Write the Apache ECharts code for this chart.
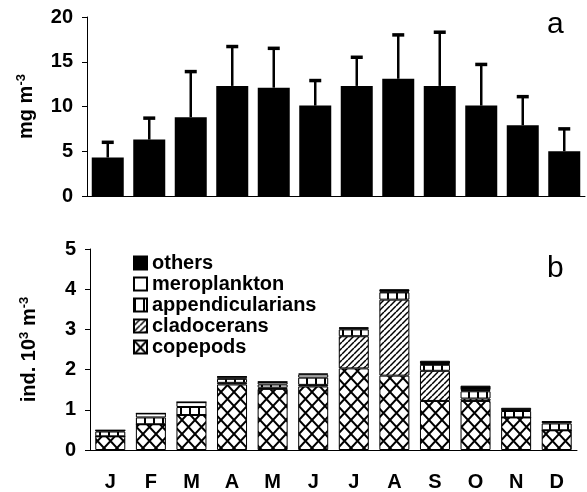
<!DOCTYPE html>
<html>
<head>
<meta charset="utf-8">
<script src="https://cdn.jsdelivr.net/npm/echarts@6/dist/echarts.min.js"></script>
<style>
  html, body { margin: 0; padding: 0; background: #fff; }
  #chart { width: 587px; height: 492px; }
</style>
</head>
<body>
<div id="chart"></div>
<script>
var months = ['J', 'F', 'M', 'A', 'M', 'J', 'J', 'A', 'S', 'O', 'N', 'D'];

// panel a: biomass (mg m-3) with SD
var biomass = [4.3, 6.3, 8.8, 12.3, 12.1, 10.1, 12.3, 13.1, 12.3, 10.1, 7.9, 5.0];
var biomassSd = [1.7, 2.4, 5.1, 4.4, 4.4, 2.8, 3.2, 4.9, 6.0, 4.6, 3.2, 2.5];

// panel b: abundance (ind. 10^3 m-3)
var copepods = [0.34, 0.64, 0.87, 1.63, 1.52, 1.58, 2.03, 1.85, 1.22, 1.22, 0.81, 0.49];
var cladocerans = [0, 0, 0, 0.04, 0.03, 0.04, 0.80, 1.89, 0.75, 0.06, 0, 0];
var appendicularians = [0.12, 0.17, 0.2, 0.1, 0.08, 0.18, 0.17, 0.18, 0.15, 0.18, 0.16, 0.17];
var meroplankton = [0.03, 0.1, 0.12, 0.05, 0.06, 0.08, 0.03, 0.02, 0.02, 0.03, 0.02, 0.04];
var others = [0, 0, 0, 0.01, 0.01, 0.02, 0.02, 0.06, 0.08, 0.11, 0.06, 0.01];

var font = "'Liberation Sans', Arial, sans-serif";

function pattern(w, h, draw) {
  var c = document.createElement('canvas');
  c.width = w; c.height = h;
  var ctx = c.getContext('2d');
  ctx.fillStyle = '#fff';
  ctx.fillRect(0, 0, w, h);
  ctx.strokeStyle = '#000';
  ctx.fillStyle = '#000';
  draw(ctx, w, h);
  return { image: c, repeat: 'repeat' };
}

var crossPat = pattern(13, 14, function(ctx, w, h) {
  ctx.lineWidth = 2;
  [-w, 0, w].forEach(function(dx) {
    ctx.beginPath();
    ctx.moveTo(dx, 0); ctx.lineTo(dx + w, h);
    ctx.moveTo(dx + w, 0); ctx.lineTo(dx, h);
    ctx.stroke();
  });
});
var diagPat = pattern(6, 6, function(ctx, w, h) {
  ctx.lineWidth = 1.5;
  [-w, 0, w].forEach(function(dx) {
    ctx.beginPath();
    ctx.moveTo(dx, h); ctx.lineTo(dx + w, 0);
    ctx.stroke();
  });
});
var vertPat = pattern(9, 2, function(ctx, w, h) {
  ctx.fillRect(0, 0, 2, h);
});

var axisLine = { lineStyle: { color: '#000', width: 1 } };
var tickLabel = { color: '#000', fontSize: 20, fontWeight: 'bold', fontFamily: font };
var supRich = {
  sup: { fontSize: 13, fontWeight: 'bold', fontFamily: font, color: '#000', padding: [0, 0, 9, 0] }
};

function stackSeries(name, data, color) {
  return {
    name: name, type: 'bar', stack: 'b', xAxisIndex: 1, yAxisIndex: 1,
    data: data, barWidth: 30,
    itemStyle: { color: color, borderColor: '#000', borderWidth: 1 }
  };
}

var chart = echarts.init(document.getElementById('chart'));
chart.setOption({
  animation: false,
  backgroundColor: '#fff',
  grid: [
    { left: 87, top: 17, width: 498, height: 179 },
    { left: 90, top: 249, width: 487, height: 203 }
  ],
  legend: {
    orient: 'vertical', left: 128, top: 248, icon: 'rect',
    itemWidth: 13, itemHeight: 13, itemGap: 1,
    data: ['others', 'meroplankton', 'appendicularians', 'cladocerans', 'copepods'],
    textStyle: { color: '#000', fontSize: 20, fontWeight: 'bold', fontFamily: font, lineHeight: 18 }
  },
  xAxis: [
    {
      type: 'category', gridIndex: 0, data: months,
      axisLine: axisLine, axisTick: { length: 5, lineStyle: { color: '#000' } },
      axisLabel: { show: false }
    },
    {
      type: 'category', gridIndex: 1, data: months,
      axisLine: axisLine, axisTick: { length: 5, lineStyle: { color: '#000' } },
      axisLabel: Object.assign({ margin: 22 }, tickLabel)
    }
  ],
  yAxis: [
    {
      type: 'value', gridIndex: 0, min: 0, max: 20, interval: 5,
      axisLine: { show: true, lineStyle: { color: '#000' } },
      axisTick: { show: true, length: 5, lineStyle: { color: '#000' } },
      splitLine: { show: false },
      axisLabel: Object.assign({ margin: 14 }, tickLabel),
      name: 'mg m{sup|-3}', nameLocation: 'middle', nameGap: 50,
      nameTextStyle: { color: '#000', fontSize: 20, fontWeight: 'bold', fontFamily: font, rich: supRich }
    },
    {
      type: 'value', gridIndex: 1, min: 0, max: 5, interval: 1,
      axisLine: { show: true, lineStyle: { color: '#000' } },
      axisTick: { show: true, length: 5, lineStyle: { color: '#000' } },
      splitLine: { show: false },
      axisLabel: Object.assign({ margin: 14 }, tickLabel),
      name: 'ind. 10{sup|3} m{sup|-3}', nameLocation: 'middle', nameGap: 50,
      nameTextStyle: { color: '#000', fontSize: 20, fontWeight: 'bold', fontFamily: font, rich: supRich }
    }
  ],
  graphic: [
    { type: 'text', left: 547, top: 10, style: { text: 'a', fontSize: 30, fontFamily: font, fill: '#000' } },
    { type: 'text', left: 547, top: 254, style: { text: 'b', fontSize: 30, fontFamily: font, fill: '#000' } }
  ],
  series: [
    {
      type: 'bar', xAxisIndex: 0, yAxisIndex: 0, data: biomass, barWidth: 32,
      itemStyle: { color: '#000' }
    },
    {
      type: 'custom', xAxisIndex: 0, yAxisIndex: 0, z: 3,
      data: biomass.map(function(v, i) { return [i, v, biomassSd[i]]; }),
      renderItem: function(params, api) {
        var base = api.coord([api.value(0), api.value(1)]);
        var top = api.coord([api.value(0), api.value(1) + api.value(2)]);
        return {
          type: 'group',
          children: [
            { type: 'line', shape: { x1: base[0], y1: base[1], x2: top[0], y2: top[1] },
              style: { stroke: '#000', lineWidth: 2.5 } },
            { type: 'line', shape: { x1: top[0] - 6, y1: top[1], x2: top[0] + 6, y2: top[1] },
              style: { stroke: '#000', lineWidth: 3.5 } }
          ]
        };
      }
    },
    stackSeries('copepods', copepods, crossPat),
    stackSeries('cladocerans', cladocerans, diagPat),
    stackSeries('appendicularians', appendicularians, vertPat),
    stackSeries('meroplankton', meroplankton, '#fff'),
    stackSeries('others', others, '#000')
  ]
});
</script>
</body>
</html>
